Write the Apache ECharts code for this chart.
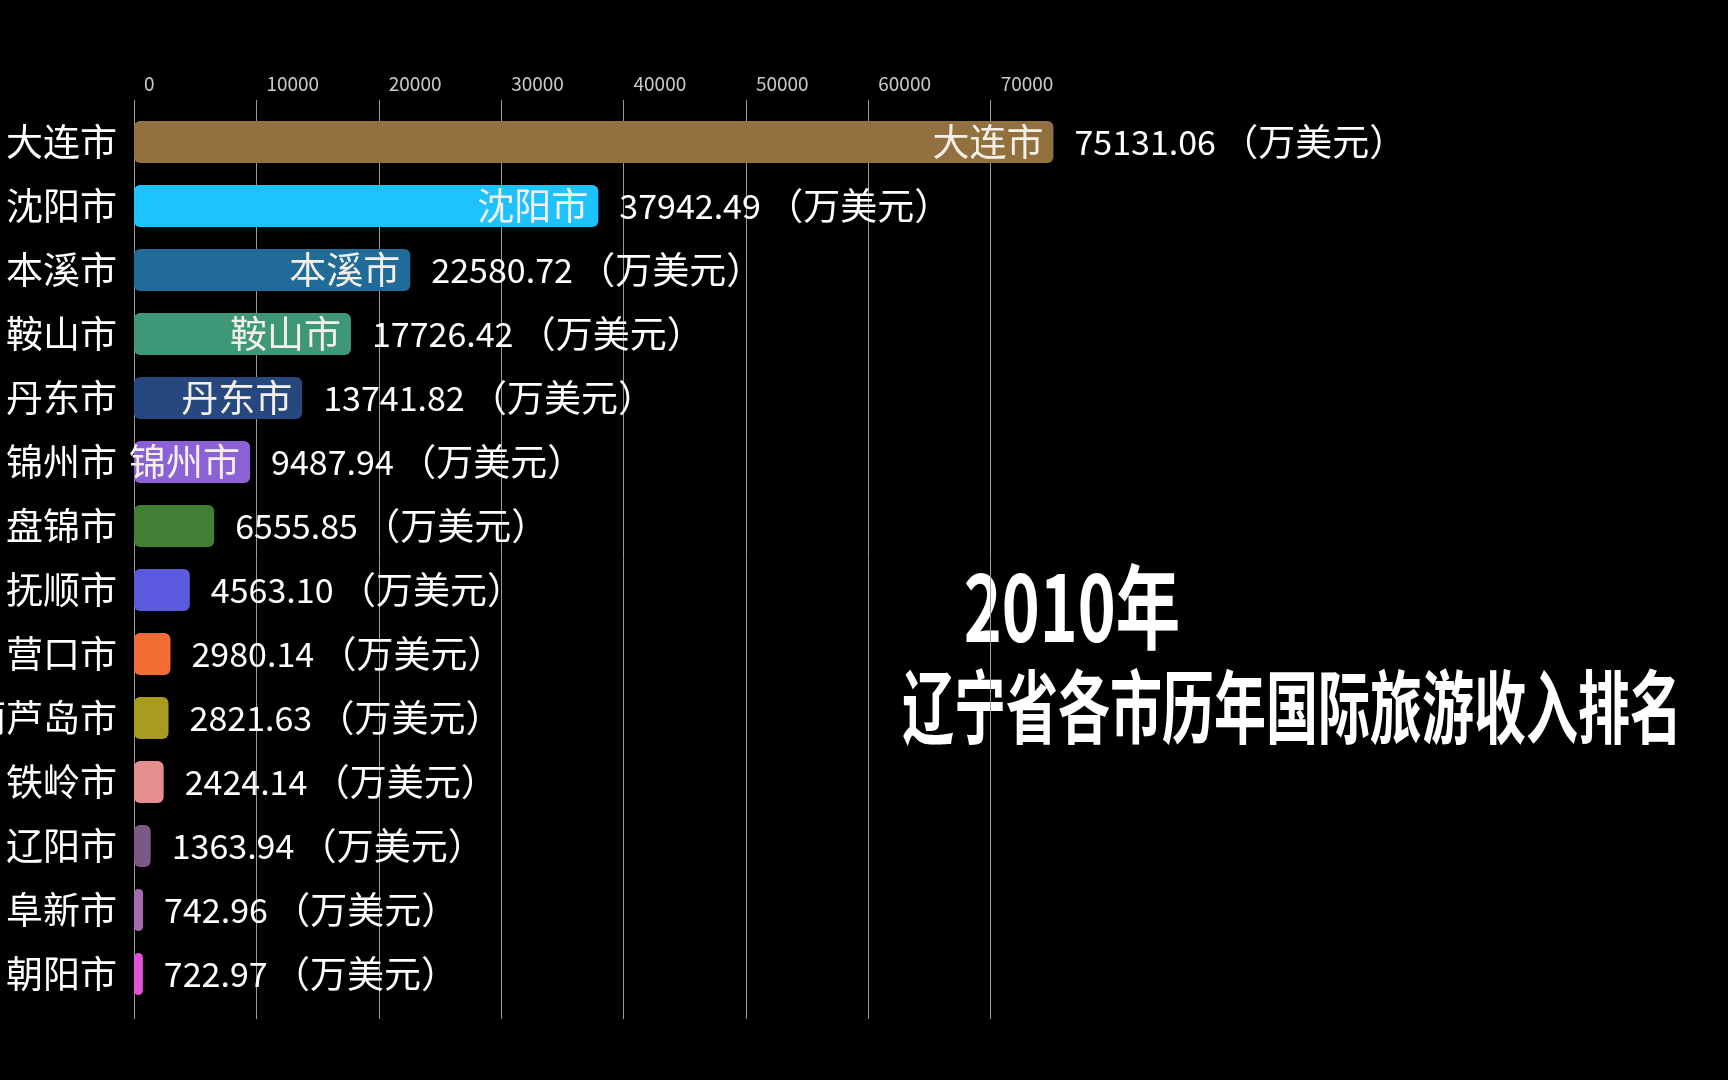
<!DOCTYPE html>
<html>
<head>
<meta charset="utf-8">
<script src="https://cdn.jsdelivr.net/npm/echarts@6/dist/echarts.min.js"></script>
<style>
html,body{margin:0;padding:0;background:#000;}
#c{width:1728px;height:1080px;}
</style>
</head>
<body>
<div id="c"></div>
<script>
// ---- data ----
const cities = ['大连市','沈阳市','本溪市','鞍山市','丹东市','锦州市','盘锦市','抚顺市','营口市','葫芦岛市','铁岭市','辽阳市','阜新市','朝阳市'];
const values = [75131.06, 37942.49, 22580.72, 17726.42, 13741.82, 9487.94, 6555.85, 4563.10, 2980.14, 2821.63, 2424.14, 1363.94, 742.96, 722.97];
const barColors = ['#93703f','#1dc2ff','#216b98','#3e9878','#27477f','#8b62d6','#427f34','#5b59dd','#f36c34','#a89b1f','#e48f8d','#7c5886','#a46aae','#e452d9'];
const xMin = 0, xMax = 80000, xStep = 10000;
const yearText = '2010年';
const titleText = '辽宁省各市历年国际旅游收入排名';
const unitText = '（万美元）';
const innerNameMin = 8000;

const FONT = '"Microsoft YaHei","Noto Sans CJK SC","Noto Sans",sans-serif';
const chart = echarts.init(document.getElementById('c'));
chart.setOption({
  backgroundColor: '#000',
  animation: false,
  textStyle: { fontFamily: FONT },
  grid: [
    { left: 134, right: 615, top: 110, bottom: 74, containLabel: false, outerBoundsMode: 'none' },
    { left: 134, right: 615, top: 100, bottom: 61, containLabel: false, outerBoundsMode: 'none' }
  ],
  xAxis: [
    { gridIndex: 0, type: 'value', min: xMin, max: xMax, interval: xStep, show: false },
    { gridIndex: 1, type: 'value', position: 'top', min: xMin, max: xMax, interval: xStep,
      axisLine: { show: false }, axisTick: { show: false },
      splitLine: { show: true, showMaxLine: false, lineStyle: { color: '#9a9a9a', width: 1 } },
      axisLabel: { showMaxLabel: false, color: '#c8c8c8', fontSize: 19, align: 'left', margin: 7,
                   padding: [0, 0, 0, 10], fontFamily: FONT, formatter: v => String(v) } }
  ],
  yAxis: [
    { gridIndex: 0, type: 'category', data: cities, inverse: true,
      axisLine: { show: false }, axisTick: { show: false }, splitLine: { show: false },
      axisLabel: { color: '#ffffff', fontSize: 37, margin: 17, fontFamily: FONT } },
    { gridIndex: 1, type: 'category', data: cities, show: false }
  ],
  series: [
    { type: 'bar', xAxisIndex: 0, yAxisIndex: 0, barWidth: 42,
      data: values.map((v, i) => ({ value: v, itemStyle: { color: barColors[i] } })),
      itemStyle: { borderRadius: 6 },
      label: { show: true, position: 'right', distance: 21, color: '#ffffff', fontFamily: FONT,
               formatter: p => '{v|' + p.value.toFixed(2) + '}  {u|' + unitText + '}',
               rich: { v: { fontSize: 34, color: '#ffffff', fontFamily: FONT },
                       u: { fontSize: 37, color: '#ffffff', fontFamily: FONT } } } },
    { type: 'bar', xAxisIndex: 0, yAxisIndex: 0, barWidth: 42, barGap: '-100%', silent: true, z: 3,
      data: values,
      itemStyle: { color: 'rgba(0,0,0,0)' },
      label: { show: true, position: 'insideRight', distance: 10, color: '#f4f0e8', fontSize: 37, fontFamily: FONT,
               formatter: p => (p.value >= innerNameMin ? p.name : '') } }
  ],
  graphic: [
    { type: 'text', x: 1072, y: 607, scaleX: 0.70,
      style: { text: yearText, fill: '#ffffff', fontSize: 92, fontWeight: 'bold', fontFamily: FONT,
               align: 'center', verticalAlign: 'middle' } },
    { type: 'text', x: 1292, y: 707, scaleX: 0.65,
      style: { text: titleText, fill: '#ffffff', fontSize: 80, fontWeight: 'bold', fontFamily: FONT,
               align: 'center', verticalAlign: 'middle' } }
  ]
});
</script>
</body>
</html>
